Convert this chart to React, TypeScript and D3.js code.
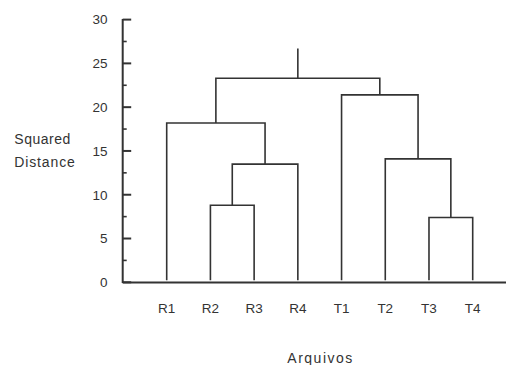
import React from "react";
import * as d3 from "d3";

const leaves = ["R1", "R2", "R3", "R4", "T1", "T2", "T3", "T4"];
// merges: left child, right child, height, node name
const mergeLeft = ["R2", "A", "R1", "T3", "T2", "T1", "C"];
const mergeRight = ["R3", "R4", "B", "T4", "D", "E", "F"];
const mergeHeight = [8.8, 13.5, 18.2, 7.4, 14.1, 21.4, 23.3];
const mergeName = ["A", "B", "C", "D", "E", "F", "ROOT"];
const rootTop = 26.7;
const yTicks = [0, 5, 10, 15, 20, 25, 30];
const yMinorTicks = [2.5, 7.5, 12.5, 17.5, 22.5, 27.5];
const yTitle = ["Squared", "Distance"];
const xTitle = "Arquivos";

export default function App() {
  const W = 508, H = 365;
  const x = d3.scalePoint<string>().domain(leaves).range([166.7, 472.7]);
  const y = d3.scaleLinear().domain([0, 30]).range([282.3, 19.6]);
  const pos: Record<string, { x: number; h: number }> = {};
  leaves.forEach((l) => (pos[l] = { x: x(l)!, h: 0 }));
  const paths: string[] = [];
  mergeName.forEach((n, i) => {
    const a = pos[mergeLeft[i]], b = pos[mergeRight[i]];
    const h = mergeHeight[i];
    const p = d3.path();
    p.moveTo(a.x, y(a.h) - (a.h === 0 ? 2 : 0));
    p.lineTo(a.x, y(h));
    p.lineTo(b.x, y(h));
    p.lineTo(b.x, y(b.h) - (b.h === 0 ? 2 : 0));
    paths.push(p.toString());
    pos[n] = { x: (a.x + b.x) / 2, h };
  });
  const root = pos["ROOT"];
  const font = "'Liberation Sans', Arial, sans-serif";
  const ax = 122.7;
  return (
    <svg width={W} height={H} style={{ position: "absolute", left: 0, top: 0, background: "#fff" }}>
      <g stroke="#333" strokeWidth={1.6} fill="none">
        {paths.map((d, i) => (
          <path key={i} d={d} />
        ))}
        <line x1={root.x} x2={root.x} y1={y(root.h)} y2={y(rootTop)} />
        <line x1={ax} x2={ax} y1={y(30) - 0.5} y2={y(0) + 0.8} strokeWidth={2} />
        <line x1={ax} x2={506} y1={y(0) + 0.3} y2={y(0) + 0.3} strokeWidth={2} />
        {yTicks.map((t) => (
          <line key={t} x1={ax} x2={ax + 8.5} y1={y(t)} y2={y(t)} strokeWidth={2} />
        ))}
        {yMinorTicks.map((t) => (
          <line key={t} x1={ax} x2={ax + 4} y1={y(t)} y2={y(t)} strokeWidth={1.6} />
        ))}
      </g>
      <g fontFamily={font} fontSize={13.5} fill="#333">
        {yTicks.map((t) => (
          <text key={t} x={107.5} y={y(t)} dy="0.36em" textAnchor="end">
            {t}
          </text>
        ))}
        {leaves.map((l) => (
          <text key={l} x={x(l)} y={313} textAnchor="middle">
            {l}
          </text>
        ))}
        <text x={14.3} y={144.3} fontSize={14} textLength={56} lengthAdjust="spacing">{yTitle[0]}</text>
        <text x={14.3} y={166.5} fontSize={14} textLength={60.5} lengthAdjust="spacing">{yTitle[1]}</text>
        <text x={287.3} y={363} fontSize={14} textLength={65} lengthAdjust="spacing">{xTitle}</text>
      </g>
    </svg>
  );
}
